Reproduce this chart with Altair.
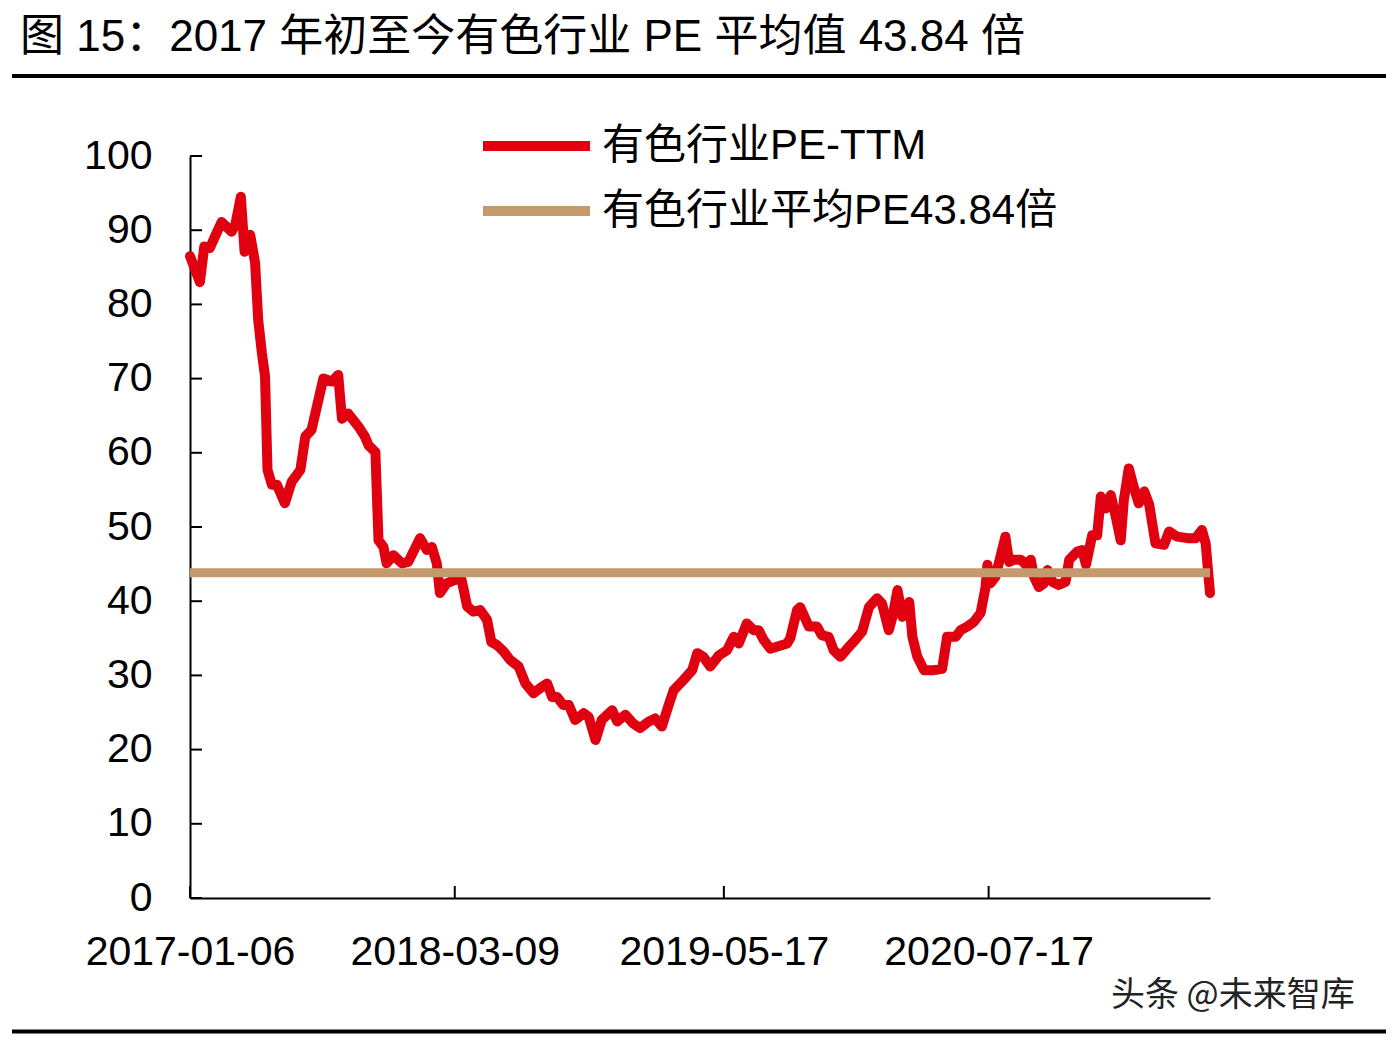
import pandas as pd
import altair as alt

# 标题、图例文字
TITLE = "图 15：2017 年初至今有色行业 PE 平均值 43.84 倍"
SERIES = ["有色行业PE-TTM", "有色行业平均PE43.84倍"]
COLORS = ["#E1000F", "#C49A6C"]
WATERMARK = "头条 @未来智库"
AVG_PE = 43.84

FONT = "'Liberation Sans', 'Noto Sans CJK SC', sans-serif"

# 有色行业 PE-TTM
dates = [
    "2017-01-06", "2017-01-22", "2017-01-29", "2017-02-07", "2017-02-15", "2017-02-26",
    "2017-03-14", "2017-03-20", "2017-03-29", "2017-04-04", "2017-04-13", "2017-04-21",
    "2017-04-26", "2017-05-02", "2017-05-07", "2017-05-11", "2017-05-18", "2017-05-26",
    "2017-06-08", "2017-06-19", "2017-07-03", "2017-07-11", "2017-07-21", "2017-08-09",
    "2017-08-23", "2017-09-02", "2017-09-08", "2017-09-18", "2017-10-05", "2017-10-15",
    "2017-10-21", "2017-11-01", "2017-11-06", "2017-11-14", "2017-11-19", "2017-11-30",
    "2017-12-14", "2017-12-24", "2018-01-12", "2018-01-23", "2018-01-31", "2018-02-08",
    "2018-02-13", "2018-02-24", "2018-03-10", "2018-03-20", "2018-03-29", "2018-04-08",
    "2018-04-19", "2018-04-30", "2018-05-07", "2018-05-16", "2018-05-27", "2018-06-06",
    "2018-06-20", "2018-07-01", "2018-07-14", "2018-07-25", "2018-08-05", "2018-08-13",
    "2018-08-21", "2018-08-31", "2018-09-09", "2018-09-19", "2018-10-03", "2018-10-11",
    "2018-10-22", "2018-11-01", "2018-11-18", "2018-11-26", "2018-12-09", "2018-12-22",
    "2019-01-02", "2019-01-16", "2019-01-26", "2019-02-06", "2019-02-17", "2019-02-25",
    "2019-03-13", "2019-03-27", "2019-04-04", "2019-04-14", "2019-04-25", "2019-05-09",
    "2019-05-22", "2019-06-02", "2019-06-10", "2019-06-23", "2019-07-04", "2019-07-12",
    "2019-07-20", "2019-07-31", "2019-08-27", "2019-09-01", "2019-09-12", "2019-09-17",
    "2019-10-01", "2019-10-14", "2019-10-22", "2019-11-02", "2019-11-10", "2019-11-21",
    "2019-12-02", "2019-12-15", "2019-12-26", "2020-01-06", "2020-01-19", "2020-01-27",
    "2020-02-07", "2020-02-13", "2020-02-21", "2020-02-29", "2020-03-11", "2020-03-16",
    "2020-03-24", "2020-04-04", "2020-04-20", "2020-05-03", "2020-05-11", "2020-05-25",
    "2020-06-02", "2020-06-13", "2020-06-23", "2020-07-04", "2020-07-12", "2020-07-15",
    "2020-07-20", "2020-07-28", "2020-08-05", "2020-08-13", "2020-08-19", "2020-08-27",
    "2020-09-07", "2020-09-15", "2020-09-23", "2020-09-28", "2020-10-06", "2020-10-14",
    "2020-10-20", "2020-10-28", "2020-11-07", "2020-11-18", "2020-11-24", "2020-12-07",
    "2020-12-15", "2020-12-21", "2020-12-26", "2020-12-31", "2021-01-08", "2021-01-14",
    "2021-01-22", "2021-01-30", "2021-02-07", "2021-02-15", "2021-02-20", "2021-02-28",
    "2021-03-08", "2021-03-16", "2021-03-25", "2021-04-02", "2021-04-12", "2021-04-26",
    "2021-05-04", "2021-05-17", "2021-06-03", "2021-06-16", "2021-06-26", "2021-07-02",
    "2021-07-09",
]
pe_ttm = [
    86.5, 83.0, 87.8, 87.6, 89.1, 91.1,
    89.8, 90.7, 94.5, 87.1, 89.4, 85.6,
    77.9, 73.4, 70.3, 57.7, 55.7, 55.7,
    53.2, 56.1, 57.7, 62.2, 63.1, 70.0,
    69.6, 70.5, 64.6, 65.3, 63.5, 62.2,
    61.0, 60.1, 48.2, 47.3, 45.1, 46.2,
    45.1, 45.3, 48.5, 46.9, 47.3, 45.1,
    41.1, 42.4, 42.9, 42.9, 39.3, 38.6,
    38.8, 37.5, 34.5, 34.1, 33.2, 32.1,
    31.2, 28.9, 27.6, 28.3, 28.9, 27.1,
    27.1, 26.0, 26.0, 24.0, 24.9, 24.4,
    21.3, 24.0, 25.3, 23.8, 24.7, 23.5,
    22.9, 23.8, 24.2, 23.1, 26.0, 28.0,
    29.4, 30.7, 33.0, 32.5, 31.2, 32.7,
    33.4, 35.2, 34.3, 37.0, 36.1, 36.1,
    34.8, 33.6, 34.3, 35.0, 38.8, 39.2,
    36.6, 36.6, 35.4, 35.2, 33.4, 32.5,
    33.6, 34.8, 35.9, 39.2, 40.4, 39.7,
    36.1, 37.9, 41.5, 37.9, 39.9, 35.2,
    32.5, 30.7, 30.7, 30.9, 35.2, 35.2,
    36.1, 36.6, 37.2, 38.4, 41.9, 44.9,
    42.4, 43.3, 46.0, 48.7, 45.3, 45.6,
    45.6, 44.9, 45.6, 43.3, 41.9, 42.4,
    44.2, 42.6, 42.2, 42.6, 45.6, 46.7,
    46.9, 44.9, 46.9, 48.9, 48.9, 54.1,
    52.5, 54.3, 51.4, 48.2, 53.6, 57.9,
    55.4, 53.2, 54.8, 53.0, 47.8, 47.6,
    49.4, 48.7, 48.5, 48.5, 49.6, 47.8,
    41.1,
]

# 坐标轴刻度
y_ticks = [0, 10, 20, 30, 40, 50, 60, 70, 80, 90, 100]
x_tick_dates = ["2017-01-06", "2018-03-09", "2019-05-17", "2020-07-17"]
x_range = ["2017-01-06", "2021-07-09"]


def dt(s):
    y, m, d = (int(p) for p in s.split("-"))
    return alt.DateTime(year=y, month=m, date=d, utc=True)


pe_df = pd.DataFrame({"date": dates, "pe": pe_ttm, "series": SERIES[0]})
avg_df = pd.DataFrame({"date": x_range, "pe": [AVG_PE, AVG_PE], "series": SERIES[1]})
ytick_df = pd.DataFrame({"pe": y_ticks})
xtick_df = pd.DataFrame({"date": x_tick_dates})
one = pd.DataFrame({"k": [0]})

x_enc = alt.X(
    "date:T",
    scale=alt.Scale(type="utc", domain=[dt(x_range[0]), dt(x_range[1])]),
    axis=alt.Axis(
        title=None,
        values=[dt(d) for d in x_tick_dates],
        format="%Y-%m-%d",
        ticks=False,
        tickSize=0,
        labelPadding=34,
        labelFlush=False,
        labelOverlap=False,
        labelLimit=500,
        grid=False,
    ),
)
y_enc = alt.Y(
    "pe:Q",
    scale=alt.Scale(domain=[0, 100], nice=False),
    axis=alt.Axis(
        title=None,
        values=y_ticks,
        ticks=False,
        tickSize=0,
        labelPadding=38,
        labelFlush=False,
        grid=False,
    ),
)
color_enc = alt.Color(
    "series:N",
    scale=alt.Scale(domain=SERIES, range=COLORS),
    legend=alt.Legend(
        title=None,
        orient="none",
        legendX=288,
        legendY=-35,
        symbolType="stroke",
        symbolSize=11449,
        symbolStrokeWidth=10,
        labelFontSize=42,
        labelFont=FONT,
        labelColor="black",
        labelOffset=7,
        labelLimit=900,
        clipHeight=50,
        rowPadding=15,
        padding=0,
    ),
)

pe_line = alt.Chart(pe_df).mark_line(strokeWidth=10, strokeJoin="round", strokeCap="round").encode(
    x=x_enc, y=y_enc, color=color_enc
)
avg_line = alt.Chart(avg_df).mark_line(strokeWidth=9).encode(x=x_enc, y=y_enc, color=color_enc)

# 朝内的刻度线
y_tick_marks = alt.Chart(ytick_df).mark_rule(color="black", strokeWidth=2).encode(
    y=y_enc, x=alt.value(0), x2=alt.value(12)
)
x_tick_marks = alt.Chart(xtick_df).mark_rule(color="black", strokeWidth=2).encode(
    x=x_enc, y=alt.value(730), y2=alt.value(742)
)

title = alt.Chart(pd.DataFrame({"t": [TITLE]})).mark_text(
    align="left", baseline="alphabetic", font=FONT, fontSize=44, color="black"
).encode(x=alt.value(-170), y=alt.value(-105), text="t:N")

top_rule = alt.Chart(one).mark_rule(color="black", strokeWidth=4).encode(
    x=alt.value(-178), x2=alt.value(1196), y=alt.value(-80)
)
bottom_rule = alt.Chart(one).mark_rule(color="black", strokeWidth=4).encode(
    x=alt.value(-178), x2=alt.value(1196), y=alt.value(875.5)
)

watermark = alt.Chart(pd.DataFrame({"t": [WATERMARK]})).mark_text(
    align="left", baseline="alphabetic", font="'Noto Sans CJK SC'", fontSize=34, color="#222222"
).encode(x=alt.value(921), y=alt.value(850), text="t:N")

chart = (
    alt.layer(pe_line, avg_line, y_tick_marks, x_tick_marks, title, top_rule, bottom_rule, watermark)
    .properties(
        width=1020,
        height=742,
        autosize="none",
        padding={"left": 182, "top": 148, "right": 176, "bottom": 138},
        background="white",
    )
    .configure_view(strokeWidth=0)
    .configure_axis(
        domainColor="black",
        domainWidth=2,
        labelColor="black",
        labelFont=FONT,
        labelFontSize=41,
    )
)

chart.save("out.html", embed_options={"renderer": "svg", "actions": False})
